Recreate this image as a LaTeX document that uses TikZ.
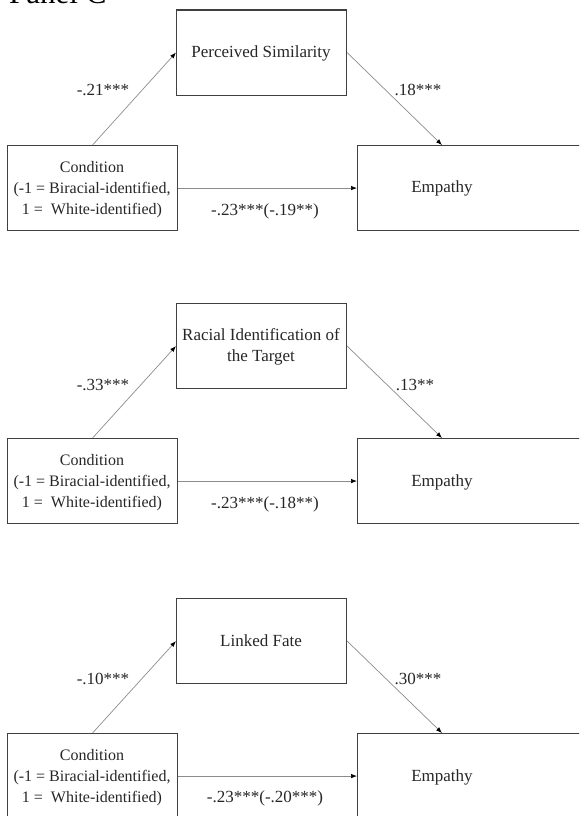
\documentclass[tikz,border=0pt]{standalone}
\usepackage{fontspec}
\setmainfont{Liberation Serif}
\usetikzlibrary{arrows.meta}
\begin{document}
\begin{tikzpicture}[x=1pt,y=-1pt,
  box/.style={draw=black!75,line width=1.1pt,minimum width=170pt,minimum height=85pt,inner sep=0pt,anchor=north west},
  txt/.style={font=\fontsize{17}{20.5}\selectfont,align=center,inner sep=0pt,text=black!85},
  cond/.style={font=\fontsize{16}{21}\selectfont,align=center,inner sep=0pt,text=black!85},
  arr/.style={draw=black!45,line width=0.7pt,-{Latex[length=6pt,width=4.5pt,color=black]}},
  lab/.style={font=\fontsize{17}{20.5}\selectfont,inner sep=0pt,text=black!85}]
\useasboundingbox (0,0) rectangle (579,816);
\clip (0,0) rectangle (579,816);
\node[anchor=base west,inner sep=0pt,font=\fontsize{31}{36}\selectfont] (title) at (9,4) {Panel C};
% ---------- Panel 1 ----------
\begin{scope}
\clip (0,0) rectangle (579,230);
\node[box] (m1) at (176,9.5) {};
\node[txt] (m1t) at (261,53) {Perceived Similarity};
\node[box] (c1) at (7,145) {};
\node[cond] (c1t) at (92,190) {Condition\\(-1 = Biracial-identified,\\1 =\ \ White-identified)};
\node[box,minimum width=260pt] (e1) at (357,145) {};
\node[txt] (e1t) at (442,188) {Empathy};
\draw[arr] (c1.north) -- (m1.west);
\draw[arr] (m1.east) -- (e1t.north |- e1.north);
\draw[arr] (c1.east) -- (e1.west);
\node[lab] (a1) at (103,90) {-.21***};
\node[lab] (b1) at (418,90) {.18***};
\node[lab] (d1) at (265,211) {-.23***(-.19**)};
\end{scope}
% ---------- Panel 2 ----------
\node[box] (m2) at (176,303) {};
\node[txt] (m2t) at (261,347) {Racial Identification of\\the Target};
\node[box] (c2) at (7,438) {};
\node[cond] (c2t) at (92,482.5) {Condition\\(-1 = Biracial-identified,\\1 =\ \ White-identified)};
\node[box,minimum width=260pt] (e2) at (357,438) {};
\node[txt] (e2t) at (442,482) {Empathy};
\draw[arr] (c2.north) -- (m2.west);
\draw[arr] (m2.east) -- (e2t.north |- e2.north);
\draw[arr] (c2.east) -- (e2.west);
\node[lab] (a2) at (103,385) {-.33***};
\node[lab] (b2) at (415,385) {.13**};
\node[lab] (d2) at (265,504) {-.23***(-.18**)};
% ---------- Panel 3 ----------
\node[box] (m3) at (176,598) {};
\node[txt] (m3t) at (261,641) {Linked Fate};
\node[box] (c3) at (7,733) {};
\node[cond] (c3t) at (92,777.5) {Condition\\(-1 = Biracial-identified,\\1 =\ \ White-identified)};
\node[box,minimum width=260pt] (e3) at (357,733) {};
\node[txt] (e3t) at (442,777) {Empathy};
\draw[arr] (c3.north) -- (m3.west);
\draw[arr] (m3.east) -- (e3t.north |- e3.north);
\draw[arr] (c3.east) -- (e3.west);
\node[lab] (a3) at (103,679) {-.10***};
\node[lab] (b3) at (418,679) {.30***};
\node[lab] (d3) at (265,798) {-.23***(-.20***)};
\end{tikzpicture}
\end{document}
